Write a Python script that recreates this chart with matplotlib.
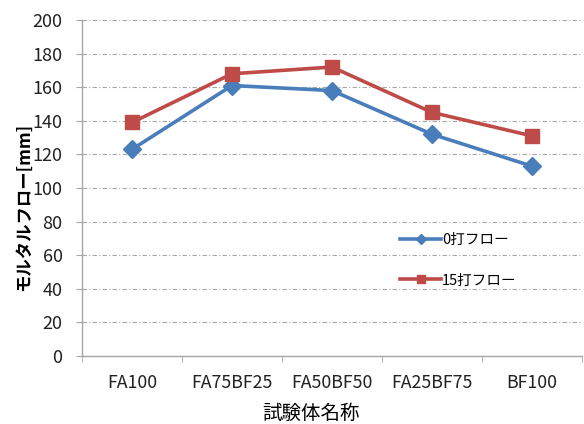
import matplotlib
matplotlib.use("Agg")
import matplotlib.pyplot as plt
import numpy as np

plt.rcParams['font.family'] = ['Noto Sans CJK JP', 'DejaVu Sans']

categories = ["FA100", "FA75BF25", "FA50BF50", "FA25BF75", "BF100"]
flow_0 = [123, 161, 158, 132, 113]
flow_15 = [139, 168, 172, 145, 131]
series_labels = ["0打フロー", "15打フロー"]
y_ticks = list(range(0, 201, 20))

blue = "#4A7EBB"
red = "#BE4B48"
grid_color = "#A6A6A6"
axis_color = "#A6A6A6"

fig = plt.figure(figsize=(5.84, 4.24), dpi=100)
ax = fig.add_axes([82 / 584, 68 / 424, 500 / 584, 336 / 424])

x = np.arange(len(categories))
ax.plot(x, flow_0, color=blue, lw=2.6, marker="D", ms=9,
        markerfacecolor=blue, markeredgecolor=blue, label=series_labels[0], zorder=3)
ax.plot(x, flow_15, color=red, lw=2.6, marker="s", ms=10,
        markerfacecolor=red, markeredgecolor=red, label=series_labels[1], zorder=3)

ax.set_xlim(-0.5, len(categories) - 0.5)
ax.set_ylim(0, 200)
ax.set_yticks(y_ticks)
ax.set_xticks(x)
ax.set_xticklabels(categories)
ax.set_xticks(np.arange(-0.5, len(categories)), minor=True)

ax.grid(axis="y", color=grid_color, linestyle=(0, (4, 2, 1, 2)), lw=0.8)
ax.set_axisbelow(True)

for side in ("top", "right"):
    ax.spines[side].set_visible(False)
for side in ("left", "bottom"):
    ax.spines[side].set_color(axis_color)
    ax.spines[side].set_linewidth(1.0)

ax.tick_params(axis="y", which="major", length=4, color=axis_color,
               labelsize=13, pad=10, labelcolor="#222222")
ax.tick_params(axis="x", which="major", length=0, pad=13,
               labelsize=12.8, labelcolor="#222222")
ax.tick_params(axis="x", which="minor", length=4, color=axis_color)

ax.set_ylabel("モルタルフロー[mm]", fontsize=12.5, fontweight="bold")
ax.yaxis.label.set_va("center")
ax.yaxis.set_label_coords(-0.116, 0.443)
ax.set_xlabel("試験体名称", fontsize=14)
ax.xaxis.label.set_va("center")
ax.xaxis.set_label_coords(0.458, -0.170)

leg = ax.legend(loc="upper left", bbox_to_anchor=(0.625, 0.384), frameon=False,
                fontsize=10.5, handlelength=2.8, handletextpad=0.05,
                labelspacing=1.83, markerscale=0.55, borderaxespad=0)

fig.savefig("out.png", dpi=100)
